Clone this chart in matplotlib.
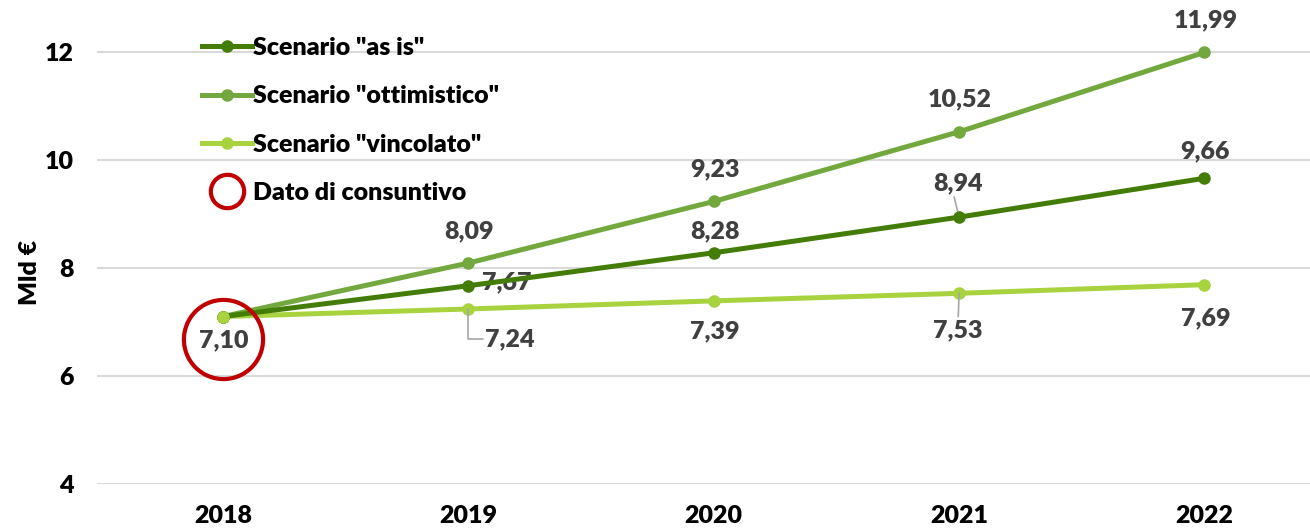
import matplotlib.pyplot as plt
import matplotlib.transforms as mtransforms
from matplotlib.lines import Line2D

anni = ["2018", "2019", "2020", "2021", "2022"]
as_is = [7.10, 7.67, 8.28, 8.94, 9.66]
ottimistico = [7.10, 8.09, 9.23, 10.52, 11.99]
vincolato = [7.10, 7.24, 7.39, 7.53, 7.69]

c_asis = "#437C07"
c_ott = "#72A83E"
c_vin = "#A9D23F"
c_lab = "#404040"
c_rosso = "#C00000"

plt.rcParams['font.family'] = ['Lato', 'DejaVu Sans']
plt.rcParams['font.weight'] = 800
W = 800
FS = 18

fig = plt.figure(figsize=(13.1, 5.32), dpi=100)
ax = fig.add_axes([97 / 1310, 48 / 532, 1 - 97 / 1310, 1 - 48 / 532])

x = list(range(len(anni)))
lw, ms = 3.6, 8
ax.plot(x, vincolato, color=c_vin, lw=lw, marker='o', ms=ms, zorder=3)
ax.plot(x, as_is, color=c_asis, lw=lw, marker='o', ms=ms, zorder=4)
ax.plot(x, ottimistico, color=c_ott, lw=lw, marker='o', ms=ms, zorder=3)
# redraw the shared starting point on top
ax.plot([0], [vincolato[0]], color=c_vin, marker='o', ms=ms, zorder=5)

# red ring around the actual (consuntivo) value
ring = mtransforms.offset_copy(ax.transData, fig=fig, x=0, y=-22, units='dots')
ax.plot([0], [as_is[0]], marker='o', ms=57, mfc='none', mec=c_rosso, mew=3.0,
        transform=ring, zorder=6, clip_on=False)

ax.set_xlim(-0.513, 4.43)
ax.set_ylim(4, 12.96)
ax.set_yticks([4, 6, 8, 10, 12])
ax.set_xticks(x)
ax.set_xticklabels(anni)
ax.yaxis.grid(True, color="#D9D9D9", lw=1.5)
ax.set_axisbelow(True)
for s in ax.spines.values():
    s.set_visible(False)
ax.tick_params(axis='both', length=0, labelsize=FS, labelcolor='black')
ax.tick_params(axis='y', pad=17)
ax.tick_params(axis='x', pad=15)
for t in ax.get_xticklabels() + ax.get_yticklabels():
    t.set_fontweight(W)
fig.text(30 / 1310, 1 - 272 / 532, "Mld €", rotation=90, fontsize=FS, fontweight=W,
         ha='center', va='center')

def fmt(v):
    return f"{v:.2f}".replace(".", ",")

lab = dict(fontsize=FS, fontweight=W, color=c_lab, ha='center', va='center')
lead = dict(arrowstyle='-', color='#A6A6A6', lw=1.2, shrinkA=0, shrinkB=0)

# ottimistico: labels above
for i in range(1, 5):
    ax.annotate(fmt(ottimistico[i]), (i, ottimistico[i]), xytext=(1, 32),
                textcoords='offset pixels', **lab)
# as is
for i, off in [(2, (1, 21)), (4, (1, 27))]:
    ax.annotate(fmt(as_is[i]), (i, as_is[i]), xytext=off, textcoords='offset pixels', **lab)
ax.annotate(fmt(as_is[1]), (1, as_is[1]), xytext=(38, 3), textcoords='offset pixels',
            arrowprops=dict(lead, relpos=(0, 0.5)), **lab)
ax.annotate(fmt(as_is[3]), (3, as_is[3]), xytext=(-1, 34), textcoords='offset pixels',
            arrowprops=dict(lead, relpos=(0.4, 0.05)), **lab)
# vincolato: labels below
ax.annotate(fmt(vincolato[0]), (0, vincolato[0]), xytext=(1, -24), textcoords='offset pixels', **lab)
for i, off in [(2, (1, -30)), (4, (1, -34))]:
    ax.annotate(fmt(vincolato[i]), (i, vincolato[i]), xytext=off, textcoords='offset pixels', **lab)
ax.annotate(fmt(vincolato[1]), (1, vincolato[1]), xytext=(42, -30), textcoords='offset pixels',
            arrowprops=dict(lead, relpos=(0, 0.5), connectionstyle='angle,angleA=0,angleB=90,rad=0'),
            **lab)
ax.annotate(fmt(vincolato[3]), (3, vincolato[3]), xytext=(-1, -37), textcoords='offset pixels',
            arrowprops=dict(lead, relpos=(0.5, 0.95)), **lab)

handles = [
    Line2D([], [], color=c_asis, lw=lw, marker='o', ms=ms),
    Line2D([], [], color=c_ott, lw=lw, marker='o', ms=ms),
    Line2D([], [], color=c_vin, lw=lw, marker='o', ms=ms),
    Line2D([], [], ls='none', marker='o', ms=24, mfc='none', mec=c_rosso, mew=3.0),
]
labels = ['Scenario "as is"', 'Scenario "ottimistico"', 'Scenario "vincolato"', 'Dato di consuntivo']
leg = ax.legend(handles, labels, loc='upper left', bbox_to_anchor=(202 / 1310, 1 - 37 / 532),
                bbox_transform=fig.transFigure, frameon=False,
                prop=dict(weight=W, size=FS), labelspacing=1.05, handlelength=2.0,
                handletextpad=0.05, borderaxespad=0, borderpad=0)

fig.savefig("out.png", dpi=100)
